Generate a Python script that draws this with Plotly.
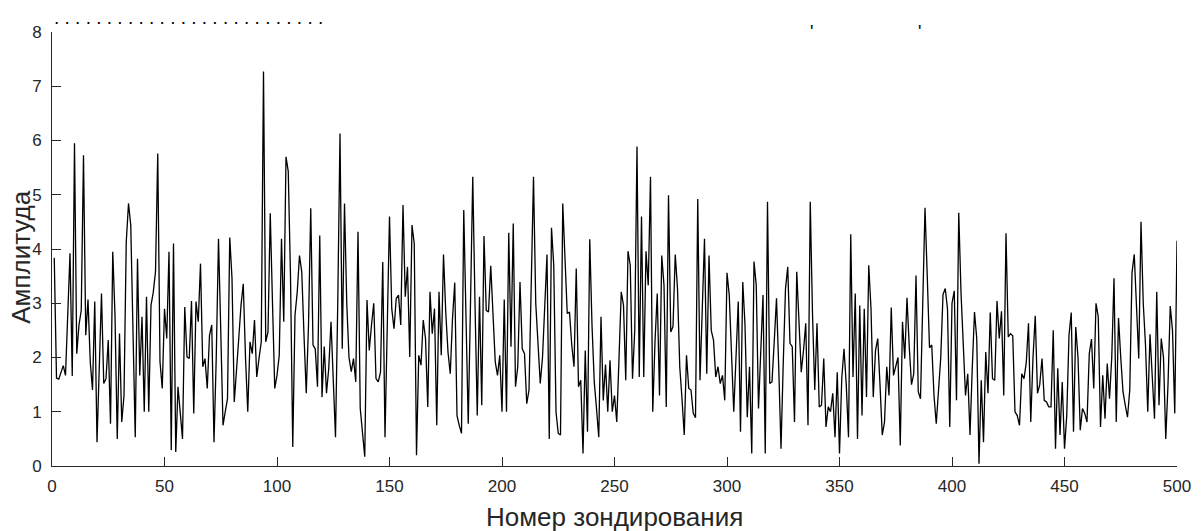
import plotly.graph_objects as go

# Амплитуда по номерам зондирования (1..500)
amp_001_050 = [3.84, 1.62, 1.60, 1.73, 1.85, 1.67, 2.8, 3.92, 1.66, 5.95,
               2.07, 2.6, 2.87, 5.73, 2.41, 3.07, 1.92, 1.40, 3.03, 0.44,
               1.8, 3.18, 1.52, 1.61, 2.32, 0.78, 3.95, 2.78, 0.5, 2.44,
               0.81, 1.3, 4.13, 4.84, 4.44, 2.5, 0.53, 3.82, 1.67, 2.75,
               1.0, 3.12, 1.0, 2.96, 3.2, 3.58, 5.76, 1.92, 1.43, 2.9]
amp_051_100 = [2.35, 3.95, 0.29, 4.1, 0.26, 1.46, 1.0, 0.5, 2.93, 2.01,
               1.98, 3.04, 0.97, 3.03, 2.66, 3.73, 1.83, 1.98, 1.43, 2.41,
               2.6, 0.44, 2.0, 4.19, 2.5, 0.75, 1.0, 1.24, 4.21, 3.46,
               1.18, 1.86, 2.35, 2.96, 3.36, 2.0, 1.0, 2.29, 2.07, 2.69,
               1.64, 1.98, 2.29, 7.27, 2.29, 2.47, 4.66, 3.0, 1.43, 1.67]
amp_101_150 = [2.04, 4.19, 2.66, 5.7, 5.43, 3.5, 0.35, 2.78, 3.21, 3.88,
               3.58, 2.41, 1.34, 2.6, 4.75, 2.23, 2.16, 1.46, 4.25, 1.27,
               2.2, 1.34, 1.8, 2.66, 1.5, 0.53, 3.0, 6.13, 2.16, 4.84,
               3.0, 2.0, 1.74, 1.98, 1.55, 4.32, 1.06, 0.65, 0.17, 3.06,
               2.13, 2.6, 3.0, 1.61, 1.55, 1.73, 3.76, 0.53, 2.5, 4.6]
amp_151_200 = [2.9, 2.53, 3.09, 3.15, 2.6, 4.81, 3.12, 3.67, 2.01, 4.44,
               4.1, 0.2, 2.04, 1.86, 2.69, 2.35, 1.09, 3.21, 2.44, 2.9,
               0.75, 3.21, 2.04, 3.9, 2.84, 2.1, 1.7, 2.72, 3.38, 0.93,
               0.75, 0.6, 4.72, 2.8, 0.78, 3.0, 5.33, 3.0, 0.93, 3.12,
               1.12, 4.24, 2.87, 2.84, 3.69, 2.8, 1.92, 1.67, 2.04, 1.0]
amp_201_250 = [3.07, 1.0, 4.3, 2.2, 4.47, 1.46, 1.83, 3.39, 2.16, 2.07,
               1.15, 1.4, 3.4, 5.33, 3.0, 2.2, 1.52, 2.0, 2.9, 3.9,
               0.5, 4.39, 3.7, 1.0, 0.6, 0.57, 4.84, 3.8, 2.81, 2.84,
               2.23, 1.83, 3.64, 1.46, 1.58, 0.23, 2.13, 0.63, 4.18, 2.6,
               1.55, 1.06, 0.53, 2.75, 1.21, 1.87, 1.0, 1.95, 1.0, 1.3]
amp_251_300 = [0.81, 1.98, 3.21, 2.96, 1.58, 3.96, 3.7, 1.61, 2.5, 5.89,
               1.64, 4.6, 1.64, 3.96, 3.33, 5.33, 1.0, 2.29, 3.18, 1.3,
               3.88, 3.33, 1.09, 4.99, 2.47, 2.57, 3.9, 3.27, 1.83, 1.24,
               0.57, 2.04, 1.43, 1.4, 0.97, 0.89, 4.92, 1.58, 3.0, 4.19,
               1.7, 3.88, 2.5, 2.32, 1.64, 1.83, 1.52, 1.67, 1.21, 3.56]
amp_301_350 = [3.15, 2.0, 1.0, 2.0, 3.03, 0.63, 3.39, 2.6, 0.9, 1.83,
               0.23, 3.77, 3.33, 1.06, 2.3, 3.15, 0.23, 4.87, 1.52, 1.55,
               2.3, 3.09, 1.8, 0.32, 1.9, 3.27, 3.67, 2.26, 2.2, 0.81,
               3.58, 2.5, 1.73, 2.13, 2.63, 0.75, 4.87, 2.8, 1.4, 2.63,
               1.09, 1.12, 1.98, 0.72, 1.09, 1.0, 1.34, 0.53, 1.73, 0.23]
amp_351_400 = [1.61, 2.16, 1.5, 0.53, 4.27, 1.64, 3.18, 0.5, 2.96, 0.93,
               2.9, 1.27, 3.7, 2.9, 1.27, 2.13, 2.35, 1.5, 0.57, 0.81,
               1.83, 1.3, 2.92, 1.67, 1.86, 2.0, 0.38, 2.66, 1.98, 3.1,
               2.2, 1.5, 1.7, 3.51, 1.37, 1.24, 3.0, 4.76, 3.5, 2.18,
               2.23, 1.3, 0.78, 1.4, 2.0, 3.16, 3.27, 2.9, 0.72, 3.0]
amp_401_450 = [3.23, 1.21, 4.67, 3.2, 2.2, 1.3, 1.7, 0.57, 1.8, 2.84,
               2.35, 0.04, 1.58, 0.44, 2.1, 1.34, 2.83, 1.61, 1.58, 3.04,
               2.35, 2.85, 1.3, 4.29, 2.38, 2.44, 2.4, 1.0, 0.93, 0.75,
               1.7, 1.61, 1.9, 2.63, 0.81, 2.0, 2.77, 1.34, 1.5, 1.98,
               1.21, 1.18, 1.09, 1.09, 2.5, 0.32, 1.8, 0.57, 1.55, 0.32]
amp_451_500 = [0.93, 2.41, 2.83, 0.63, 2.56, 2.0, 0.66, 1.06, 0.97, 0.81,
               2.07, 2.34, 1.43, 3.0, 2.75, 0.72, 1.67, 0.87, 1.89, 1.24,
               2.0, 3.46, 0.81, 2.73, 2.0, 1.37, 1.12, 0.9, 1.4, 3.56,
               3.9, 2.8, 1.98, 4.5, 3.0, 2.23, 1.0, 2.43, 1.6, 0.87,
               3.21, 1.12, 2.35, 2.0, 0.5, 1.5, 2.95, 2.5, 0.97, 4.15]

amplitude = (amp_001_050 + amp_051_100 + amp_101_150 + amp_151_200 + amp_201_250
             + amp_251_300 + amp_301_350 + amp_351_400 + amp_401_450 + amp_451_500)
sounding = list(range(1, len(amplitude) + 1))

x_ticks = list(range(0, 501, 50))
y_ticks = list(range(0, 9))

x_title = "Номер зондирования"
y_title = "Амплитуда"

axis_col = "#262626"
font_family = "Liberation Sans, Arial, Helvetica, sans-serif"

fig = go.Figure()
fig.add_trace(go.Scatter(x=sounding, y=amplitude, mode="lines",
                         line=dict(color="black", width=1.3),
                         showlegend=False, hoverinfo="x+y"))

fig.update_layout(
    width=1203, height=531,
    margin=dict(l=52, r=26, t=32, b=65),
    paper_bgcolor="white", plot_bgcolor="white",
    font=dict(family=font_family, color=axis_col, size=17),
    xaxis=dict(range=[0, 500], tickvals=x_ticks, ticktext=[str(v) for v in x_ticks],
               showline=True, linecolor=axis_col, linewidth=1,
               ticks="inside", ticklen=9, tickcolor=axis_col, tickwidth=1,
               showgrid=False, zeroline=False, ticklabelstandoff=5, automargin=False,
               tickfont=dict(size=17, color=axis_col)),
    yaxis=dict(range=[0, 8], tickvals=y_ticks, ticktext=[str(v) for v in y_ticks],
               showline=True, linecolor=axis_col, linewidth=1,
               ticks="inside", ticklen=9, tickcolor=axis_col, tickwidth=1,
               showgrid=False, zeroline=False, ticklabelstandoff=6, automargin=False,
               tickfont=dict(size=17, color=axis_col)),
)

# подписи осей
fig.add_annotation(text=x_title, xref="paper", yref="paper", x=0.5, y=-0.118,
                   xanchor="center", yanchor="middle", showarrow=False,
                   font=dict(size=26, color=axis_col, family=font_family))
fig.add_annotation(text=y_title, xref="paper", yref="paper", x=-0.0275, y=0.48,
                   xanchor="center", yanchor="middle", textangle=-90, showarrow=False,
                   font=dict(size=26, color=axis_col, family=font_family))

# обрезанный заголовок сверху (видна только нижняя часть)
fig.add_annotation(text=". " * 25 + ".", xref="paper", yref="paper",
                   x=0.0, y=1.0, xanchor="left", yanchor="bottom", yshift=2,
                   showarrow=False, font=dict(size=19, color="black", family=font_family))
for xp in [0.675, 0.771]:
    fig.add_annotation(text="'", xref="paper", yref="paper",
                       x=xp, y=1.0, xanchor="center", yanchor="bottom", yshift=-12,
                       showarrow=False, font=dict(size=18, color="black", family=font_family))

fig.write_html("out.html", config={"displayModeBar": False},
               post_script="document.body.style.margin='0';document.body.style.overflow='hidden';")
